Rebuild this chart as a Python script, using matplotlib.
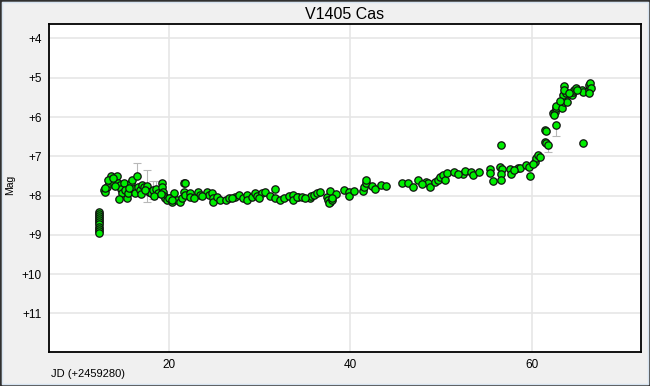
import matplotlib
matplotlib.use("Agg")
import matplotlib.pyplot as plt
from matplotlib.patches import Rectangle

# ---- data (JD - 2459280, visual magnitude) ----
jd = [
    12.26, 12.26, 12.26, 12.26, 12.26, 12.26, 12.26, 12.26, 12.26, 12.26, 12.26,
    12.84, 12.95, 13.14, 13.40, 13.58, 13.65, 14.30, 14.42, 14.57, 14.71, 14.86,
    14.50, 15.04, 15.15, 15.37, 15.52, 15.78, 15.93, 16.07, 16.26, 16.51, 16.62,
    16.81, 17.06, 17.28, 17.61, 17.80, 18.02, 18.27, 18.54, 18.76, 19.26, 19.30,
    19.37, 19.45, 19.56, 19.81, 20.10, 20.36, 20.58, 20.85, 21.20, 21.40, 21.65,
    21.76, 21.65, 21.76, 22.31, 22.31, 23.23, 23.41, 24.22, 24.44, 24.70, 24.81,
    24.81, 25.25, 25.62, 26.24, 26.64, 27.27, 27.74, 28.12, 28.56, 28.56, 29.11,
    29.47, 29.73, 30.21, 30.57, 31.12, 31.67, 31.67, 32.22, 32.67, 33.25, 33.62,
    33.69, 34.24, 34.06, 34.61, 35.53, 35.71, 36.00, 36.27, 36.63, 37.37, 37.48,
    37.73, 37.73, 37.62, 37.92, 38.36, 39.31, 39.86, 39.86, 40.41, 41.33, 41.51,
    41.66, 41.70, 42.39, 42.69, 43.35, 45.63, 46.36, 46.91, 47.46, 48.30, 48.56,
    48.74, 49.29, 49.66, 49.85, 50.21, 50.40, 50.58, 51.39, 52.41, 52.60, 53.33,
    53.51, 55.35, 55.42, 55.71, 56.45, 56.74, 56.63, 56.63, 56.63, 57.62, 57.73,
    58.45, 58.71, 59.38, 59.66, 59.82, 60.30, 60.48, 60.66, 60.92, 61.41, 61.52,
    61.41, 61.59, 61.77, 62.69, 62.30, 62.50, 62.60, 62.69, 63.35, 63.50, 63.60,
    63.42, 63.72, 63.50, 63.50, 63.80, 64.35, 64.46, 64.60, 64.82, 65.45, 65.56,
    65.63, 66.22, 66.30, 66.37, 66.48, 66.30, 13.00, 13.30, 13.80, 14.10, 15.60,
    16.90, 17.40, 18.40, 19.10, 20.00, 20.30, 22.80, 23.60, 27.00, 29.90, 35.00,
    38.00, 43.90, 47.90, 51.90, 54.20, 58.00, 60.10, 62.40, 63.10, 64.10, 65.00,
]
mag = [
    8.41, 8.47, 8.53, 8.58, 8.63, 8.68, 8.73, 8.79, 8.84, 8.89, 8.94,
    7.86, 7.92, 7.78, 7.69, 7.50, 7.62, 7.50, 7.67, 7.73, 7.82, 7.94,
    8.09, 7.69, 7.86, 8.05, 7.93, 7.69, 7.61, 7.84, 7.94, 7.50, 7.78,
    7.86, 7.73, 7.78, 7.76, 7.90, 7.94, 7.86, 7.82, 7.93, 7.67, 7.78,
    7.90, 8.01, 8.07, 8.11, 8.07, 8.16, 7.94, 8.11, 8.16, 8.07, 7.69,
    7.69, 7.90, 7.99, 7.94, 8.03, 7.90, 7.99, 7.90, 7.99, 7.94, 8.07,
    8.16, 8.03, 8.10, 8.11, 8.07, 8.03, 7.99, 8.05, 7.99, 8.10, 8.03,
    7.94, 8.01, 7.94, 7.90, 8.01, 7.84, 8.05, 8.10, 8.07, 8.01, 7.99,
    8.10, 8.03, 8.03, 8.03, 8.07, 8.01, 7.99, 7.94, 7.92, 8.03, 8.10,
    7.88, 8.16, 8.20, 8.10, 7.97, 7.86, 7.90, 8.00, 7.88, 7.88, 7.78,
    7.69, 7.59, 7.76, 7.82, 7.73, 7.69, 7.67, 7.78, 7.61, 7.65, 7.69,
    7.79, 7.65, 7.61, 7.52, 7.48, 7.59, 7.42, 7.39, 7.44, 7.37, 7.39,
    7.48, 7.31, 7.42, 7.62, 7.27, 7.33, 7.44, 7.61, 6.72, 7.31, 7.45,
    7.29, 7.29, 7.22, 7.27, 7.50, 7.14, 7.05, 6.97, 7.01, 6.33, 6.36,
    6.63, 6.66, 6.72, 6.21, 5.91, 5.87, 5.78, 5.72, 5.78, 5.61, 5.53,
    5.44, 5.40, 5.21, 5.32, 5.61, 5.44, 5.36, 5.30, 5.27, 5.30, 5.36,
    6.66, 5.32, 5.19, 5.13, 5.25, 5.38, 7.80, 7.60, 7.55, 7.75, 7.80,
    7.95, 7.85, 8.00, 7.95, 8.05, 8.10, 8.05, 8.00, 8.05, 8.05, 8.05,
    8.05, 7.75, 7.70, 7.45, 7.40, 7.35, 7.20, 5.95, 5.60, 5.40, 5.30,
]
# uncertainty toward brighter (err_lo) and fainter (err_hi) magnitudes
err_lo = [0.03] * len(jd)
err_hi = [0.03] * len(jd)
for i, lo, hi in [(31, 0.33, 0.03), (36, 0.41, 0.41), (54, 0.10, 0.03),
                  (39, 0.22, 0.22), (40, 0.20, 0.20), (186, 0.18, 0.18),
                  (156, 0.03, 0.17), (157, 0.03, 0.28)]:
    err_lo[i] = lo
    err_hi[i] = hi

title = "V1405 Cas"
xlabel = "JD (+2459280)"
ylabel = "Mag"
xticks = [20, 40, 60]
yticks = [4, 5, 6, 7, 8, 9, 10, 11]
ytick_labels = ["+4", "+5", "+6", "+7", "+8", "+9", "+10", "+11"]

W, H = 650, 386
fig = plt.figure(figsize=(W / 100, H / 100), dpi=100)
fig.patch.set_facecolor("#F0F0F0")
plt.rcParams['font.family'] = ['Liberation Sans', 'DejaVu Sans']

ax = fig.add_axes([49 / W, 1 - 352 / H, (641 - 49) / W, (352 - 24.3) / H])
ax.set_facecolor("white")
ax.set_xlim(6.8, 72.0)
ax.set_ylim(11.98, 3.64)
ax.set_xticks(xticks)
ax.set_yticks(yticks)
ax.set_yticklabels(ytick_labels)
ax.tick_params(length=0, labelsize=8.5, pad=5, colors="black")
ax.grid(True, color="#E6E6E6", linewidth=1.2)
ax.set_axisbelow(True)
for s in ax.spines.values():
    s.set_color("black")
    s.set_linewidth(1.3)

# error bars (behind markers); y axis is inverted so "upper" = fainter
ax.errorbar(jd, mag, yerr=[err_lo, err_hi], fmt="none", ecolor="#B8B8B8",
            elinewidth=0.8, capsize=3, capthick=0.8, zorder=2)
ax.plot(jd, mag, linestyle="none", marker="o", markersize=5.3,
        markerfacecolor="#00EE00", markeredgecolor="#111111",
        markeredgewidth=0.9, zorder=3)

ax.set_title(title, fontsize=11.5, pad=4)
fig.text(10 / W, 1 - 185 / H, ylabel, rotation=90, fontsize=7.5,
         ha="center", va="center")
fig.text(51 / W, 1 - 374 / H, xlabel, fontsize=8, ha="left", va="center")

# window-style border
fig.patches.append(Rectangle((0, 0), 1, 1, transform=fig.transFigure,
                             fill=False, edgecolor="#303030", linewidth=2.0))
fig.patches.append(Rectangle((2 / W, 2 / H), 1 - 4 / W, 1 - 4 / H,
                             transform=fig.transFigure, fill=False,
                             edgecolor="#D6E3F0", linewidth=1.0))

fig.savefig("out.png", dpi=100, facecolor=fig.get_facecolor())
